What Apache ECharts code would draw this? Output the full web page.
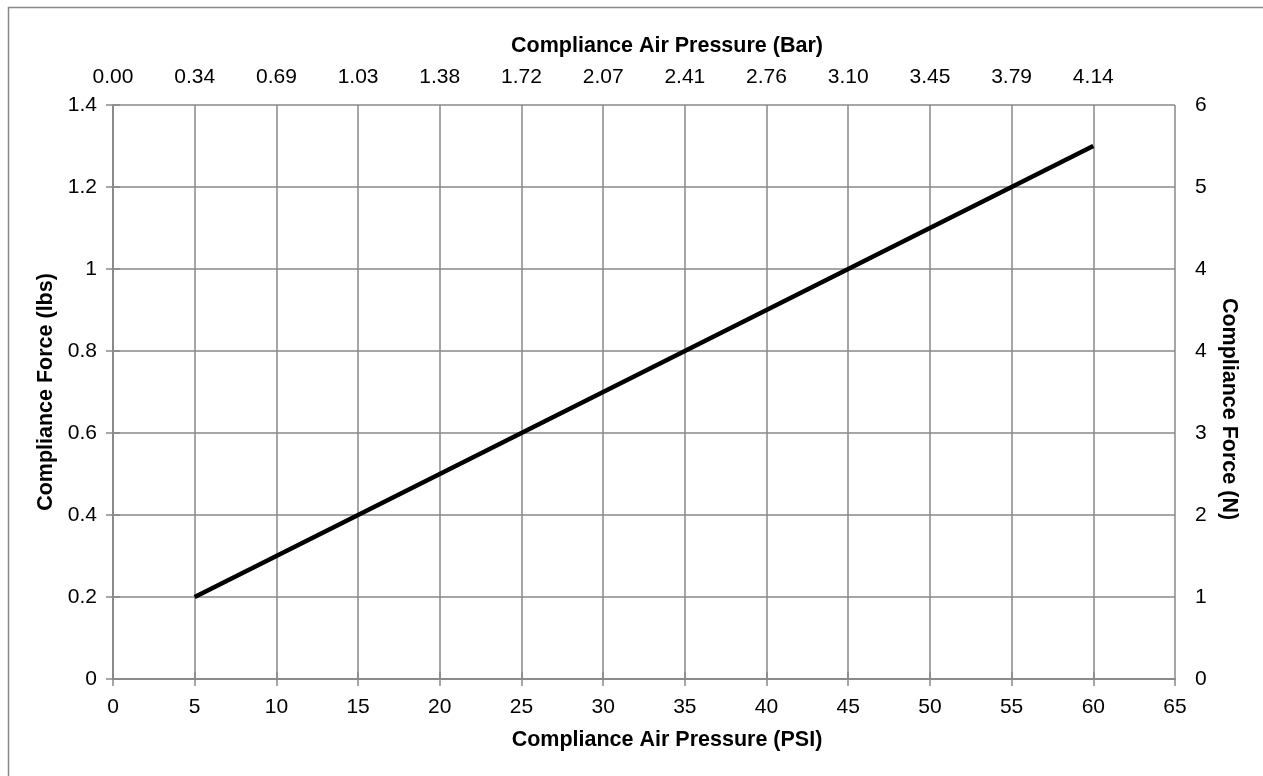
<!DOCTYPE html>
<html>
<head>
<meta charset="utf-8">
<script src="https://cdn.jsdelivr.net/npm/echarts@6/dist/echarts.min.js"></script>
<style>
html,body{margin:0;padding:0;background:#fff;}
#chart{width:1263px;height:776px;}
</style>
</head>
<body>
<div id="chart"></div>
<script>
// Data
var psiValues = [5, 10, 15, 20, 25, 30, 35, 40, 45, 50, 55, 60];
var forceLbs = [0.2, 0.3, 0.4, 0.5, 0.6, 0.7, 0.8, 0.9, 1.0, 1.1, 1.2, 1.3];
var psiTicks = [0, 5, 10, 15, 20, 25, 30, 35, 40, 45, 50, 55, 60, 65];
var barTickValues = [0, 5, 10, 15, 20, 25, 30, 35, 40, 45, 50, 55, 60];
var barTickLabels = ['0.00', '0.34', '0.69', '1.03', '1.38', '1.72', '2.07', '2.41', '2.76', '3.10', '3.45', '3.79', '4.14'];
var lbsTicks = [0, 0.2, 0.4, 0.6, 0.8, 1, 1.2, 1.4];
var newtonTickLabels = ['0', '1', '2', '3', '4', '4', '5', '6'];

var FONT = '"Liberation Sans", Arial, sans-serif';
var GRAY = '#898989';

var seriesData = psiValues.map(function (x, i) { return [x, forceLbs[i]]; });

var chart = echarts.init(document.getElementById('chart'));
chart.setOption({
  animation: false,
  backgroundColor: '#fff',
  graphic: [{
    type: 'rect',
    left: 6, top: 5,
    shape: { x: 0, y: 0, width: 1400, height: 900 },
    style: { fill: 'none', stroke: GRAY, lineWidth: 1.5 },
    silent: true
  }],
  grid: { left: 113, right: 88, top: 105, bottom: 97 },
  xAxis: [{
    type: 'value',
    position: 'bottom',
    min: 0, max: 65, interval: 5,
    name: 'Compliance Air Pressure (PSI)',
    nameLocation: 'middle',
    nameGap: 50,
    nameTextStyle: { fontFamily: FONT, fontSize: 21.5, fontWeight: 'bold', color: '#000', padding: [0, 0, 0, 46] },
    axisLine: { show: true, lineStyle: { color: GRAY, width: 1.5 } },
    axisTick: { show: true, inside: false, length: 7, lineStyle: { color: GRAY, width: 1.5 } },
    axisLabel: { margin: 18, fontFamily: FONT, fontSize: 21, color: '#000',
      formatter: function (v) { return psiTicks.indexOf(v) >= 0 ? String(v) : ''; } },
    splitLine: { show: true, lineStyle: { color: GRAY, width: 1.5 } }
  }, {
    type: 'value',
    position: 'top',
    min: 0, max: 65, interval: 5,
    name: 'Compliance Air Pressure (Bar)',
    nameLocation: 'middle',
    nameGap: 48,
    nameTextStyle: { fontFamily: FONT, fontSize: 21.5, fontWeight: 'bold', color: '#000', padding: [0, 0, 0, 46] },
    axisLine: { show: true, lineStyle: { color: GRAY, width: 1.5 } },
    axisTick: { show: true, inside: false, length: 7, customValues: barTickValues, lineStyle: { color: GRAY, width: 1.5 } },
    axisLabel: { margin: 17, fontFamily: FONT, fontSize: 21, color: '#000',
      customValues: barTickValues,
      formatter: function (v) {
        var i = barTickValues.indexOf(Math.round(v));
        return i >= 0 ? barTickLabels[i] : '';
      } },
    splitLine: { show: false }
  }],
  yAxis: [{
    type: 'value',
    position: 'left',
    min: 0, max: 1.4, interval: 0.2,
    name: 'Compliance Force (lbs)',
    nameLocation: 'middle',
    nameGap: 56,
    nameRotate: 90,
    nameTextStyle: { fontFamily: FONT, fontSize: 21.5, fontWeight: 'bold', color: '#000' },
    axisLine: { show: true, lineStyle: { color: GRAY, width: 1.5 } },
    axisTick: { show: true, inside: false, length: 7, lineStyle: { color: GRAY, width: 1.5 } },
    axisLabel: { margin: 16, fontFamily: FONT, fontSize: 21, color: '#000',
      formatter: function (v) {
        var i = Math.round(v / 0.2);
        return i >= 0 && i < lbsTicks.length ? String(lbsTicks[i]) : '';
      } },
    splitLine: { show: true, lineStyle: { color: GRAY, width: 1.5 } }
  }, {
    type: 'value',
    position: 'right',
    min: 0, max: 1.4, interval: 0.2,
    name: 'Compliance Force (N)',
    nameLocation: 'middle',
    nameGap: 37,
    nameRotate: -90,
    nameTextStyle: { fontFamily: FONT, fontSize: 21.5, fontWeight: 'bold', color: '#000', padding: [0, 0, 0, 34] },
    axisLine: { show: true, lineStyle: { color: GRAY, width: 1.5 } },
    axisTick: { show: true, inside: false, length: 7, lineStyle: { color: GRAY, width: 1.5 } },
    axisLabel: { margin: 20, fontFamily: FONT, fontSize: 21, color: '#000',
      formatter: function (v) {
        var i = Math.round(v / 0.2);
        return i >= 0 && i < newtonTickLabels.length ? newtonTickLabels[i] : '';
      } },
    splitLine: { show: false }
  }],
  series: [{
    type: 'line',
    xAxisIndex: 0,
    yAxisIndex: 0,
    data: seriesData,
    showSymbol: false,
    symbol: 'none',
    lineStyle: { color: '#000', width: 4.5 },
    itemStyle: { color: '#000' }
  }]
});
</script>
</body>
</html>
